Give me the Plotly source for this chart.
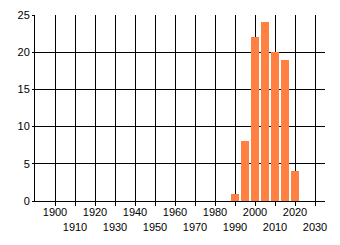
import plotly.graph_objects as go

years = [1990, 1995, 2000, 2005, 2010, 2015, 2020]
counts = [1, 8, 22, 24, 20, 19, 4]
tick_years = list(range(1900, 2031, 10))
tick_text = [str(y) if (y // 10) % 2 == 0 else " <br>" + str(y) for y in tick_years]

fig = go.Figure()
fig.add_trace(go.Bar(x=years, y=counts, width=4, marker=dict(color="#FF8040", line=dict(width=0))))

fig.update_layout(
    width=340, height=245,
    margin=dict(l=35, r=15, t=15, b=44),
    paper_bgcolor="white", plot_bgcolor="white",
    showlegend=False,
    font=dict(family="Liberation Sans, Arial, sans-serif", size=11, color="black"),
    bargap=0,
)
fig.update_xaxes(
    range=[1890, 2035], tickvals=tick_years, ticktext=tick_text, tickangle=0,
    showgrid=True, gridcolor="black", gridwidth=1, zeroline=False,
    showline=True, linecolor="black", linewidth=1, automargin=False,
    ticks="outside", ticklen=4, tickcolor="black", tickwidth=1,
    ticklabelstandoff=-3,
)
fig.update_yaxes(
    range=[0, 25], dtick=5, tick0=0,
    showgrid=True, gridcolor="black", gridwidth=1, zeroline=False,
    showline=True, linecolor="black", linewidth=1, automargin=False,
    ticks="outside", ticklen=2, tickcolor="black", tickwidth=1,
)
fig.write_html("out.html")
